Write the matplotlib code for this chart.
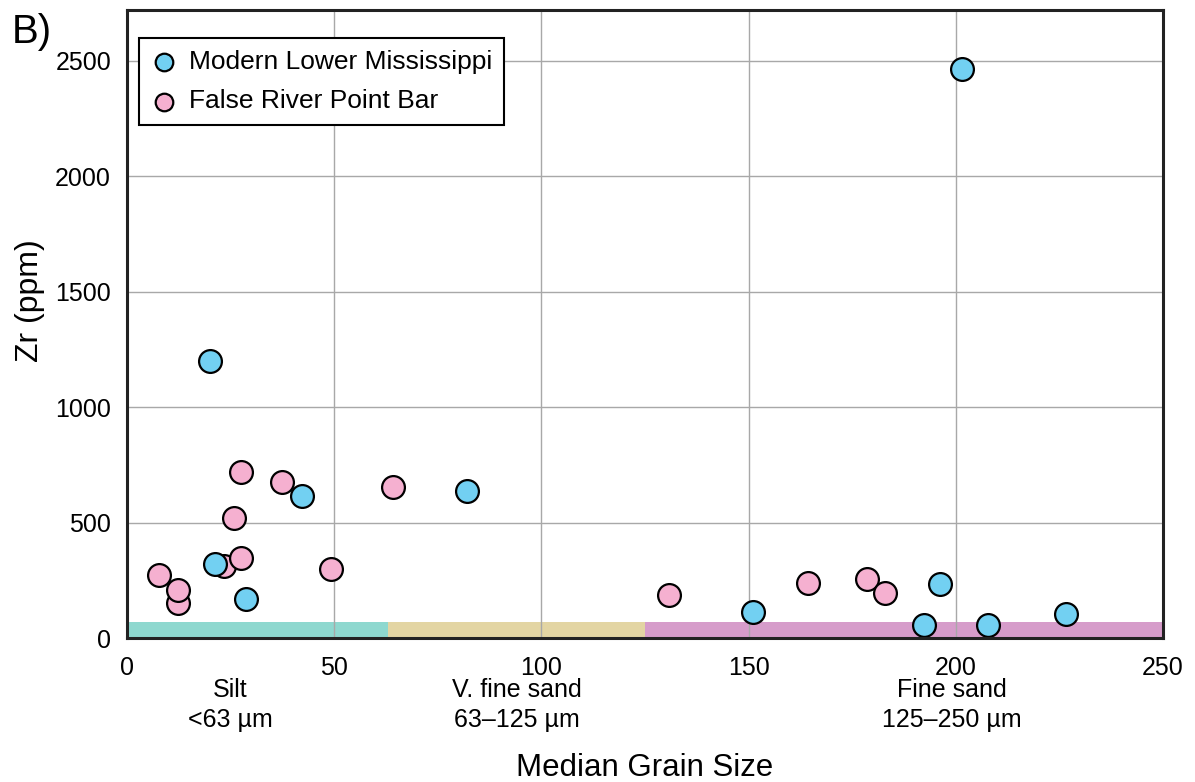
import matplotlib
matplotlib.use('Agg')
import matplotlib.pyplot as plt

plt.rcParams['font.family'] = ['Liberation Sans', 'DejaVu Sans']

# Modern Lower Mississippi (blue)
mlm_size = [20.0, 42.2, 82.0, 21.2, 28.7, 201.5, 151.1, 192.3, 196.2, 207.8, 226.6]
mlm_zr = [1200, 615, 637, 321, 169, 2465, 113, 56, 234, 56, 104]

# False River Point Bar (pink)
frpb_size = [7.7, 12.3, 12.3, 23.4, 27.5, 25.8, 27.5, 37.4, 49.2, 64.2,
             130.8, 164.3, 178.6, 182.9]
frpb_zr = [273, 152, 208, 312, 347, 520, 719, 676, 299, 654,
           186, 238, 256, 195]

# grain size classes
class_names = ['Silt\n<63 µm', 'V. fine sand\n63–125 µm', 'Fine sand\n125–250 µm']
class_lo = [0, 63, 125]
class_hi = [63, 125, 250]
class_colors = ['#8ed8cf', '#e3d5a3', '#d69cca']
label_x = [25, 94, 199]

xticks = [0, 50, 100, 150, 200, 250]
yticks = [0, 500, 1000, 1500, 2000, 2500]

fig = plt.figure(figsize=(11.95, 7.82), dpi=100)
ax = fig.add_axes([0.1063, 0.1841, 0.8669, 0.8031])

# colour bands along the bottom
for lo, hi, c in zip(class_lo, class_hi, class_colors):
    ax.fill_between([lo, hi], 0, 69, color=c, lw=0, zorder=1)

ax.grid(True, color='#a8a8a8', lw=1.0, zorder=2)
ax.set_axisbelow(False)

ax.scatter(mlm_size, mlm_zr, s=270, c='#72d0f2', edgecolors='black',
           linewidths=1.6, zorder=4, label='Modern Lower Mississippi')
ax.scatter(frpb_size, frpb_zr, s=270, c='#f5b0d0', edgecolors='black',
           linewidths=1.6, zorder=3, label='False River Point Bar')

ax.set_xlim(0, 250)
ax.set_ylim(0, 2720)
ax.set_xticks(xticks)
ax.set_yticks(yticks)
ax.tick_params(length=0, labelsize=18)
ax.tick_params(axis='x', pad=13)
ax.tick_params(axis='y', pad=11.5)
for sp in ax.spines.values():
    sp.set_linewidth(2.2)
    sp.set_color('#222222')
    sp.set_zorder(5)

for x, name in zip(label_x, class_names):
    ax.text(x, -0.064, name, transform=ax.get_xaxis_transform(),
            ha='center', va='top', fontsize=18, linespacing=1.3)

ax.set_xlabel('Median Grain Size', fontsize=22.5)
ax.xaxis.set_label_coords(0.5, -0.183)
ax.set_ylabel('Zr (ppm)', fontsize=23)
ax.yaxis.set_label_coords(-0.079, 0.537)

fig.text(0.010, 0.983, 'B)', fontsize=29, ha='left', va='top')

leg = ax.legend(loc='upper left', fontsize=19, frameon=True, fancybox=False,
                edgecolor='black', framealpha=1, borderpad=0.43,
                handlelength=1.0, handletextpad=0.48, labelspacing=0.6,
                markerscale=0.77, bbox_to_anchor=(0.0116, 0.955),
                borderaxespad=0)
leg.get_frame().set_linewidth(1.5)

fig.savefig('out.png', dpi=100)
